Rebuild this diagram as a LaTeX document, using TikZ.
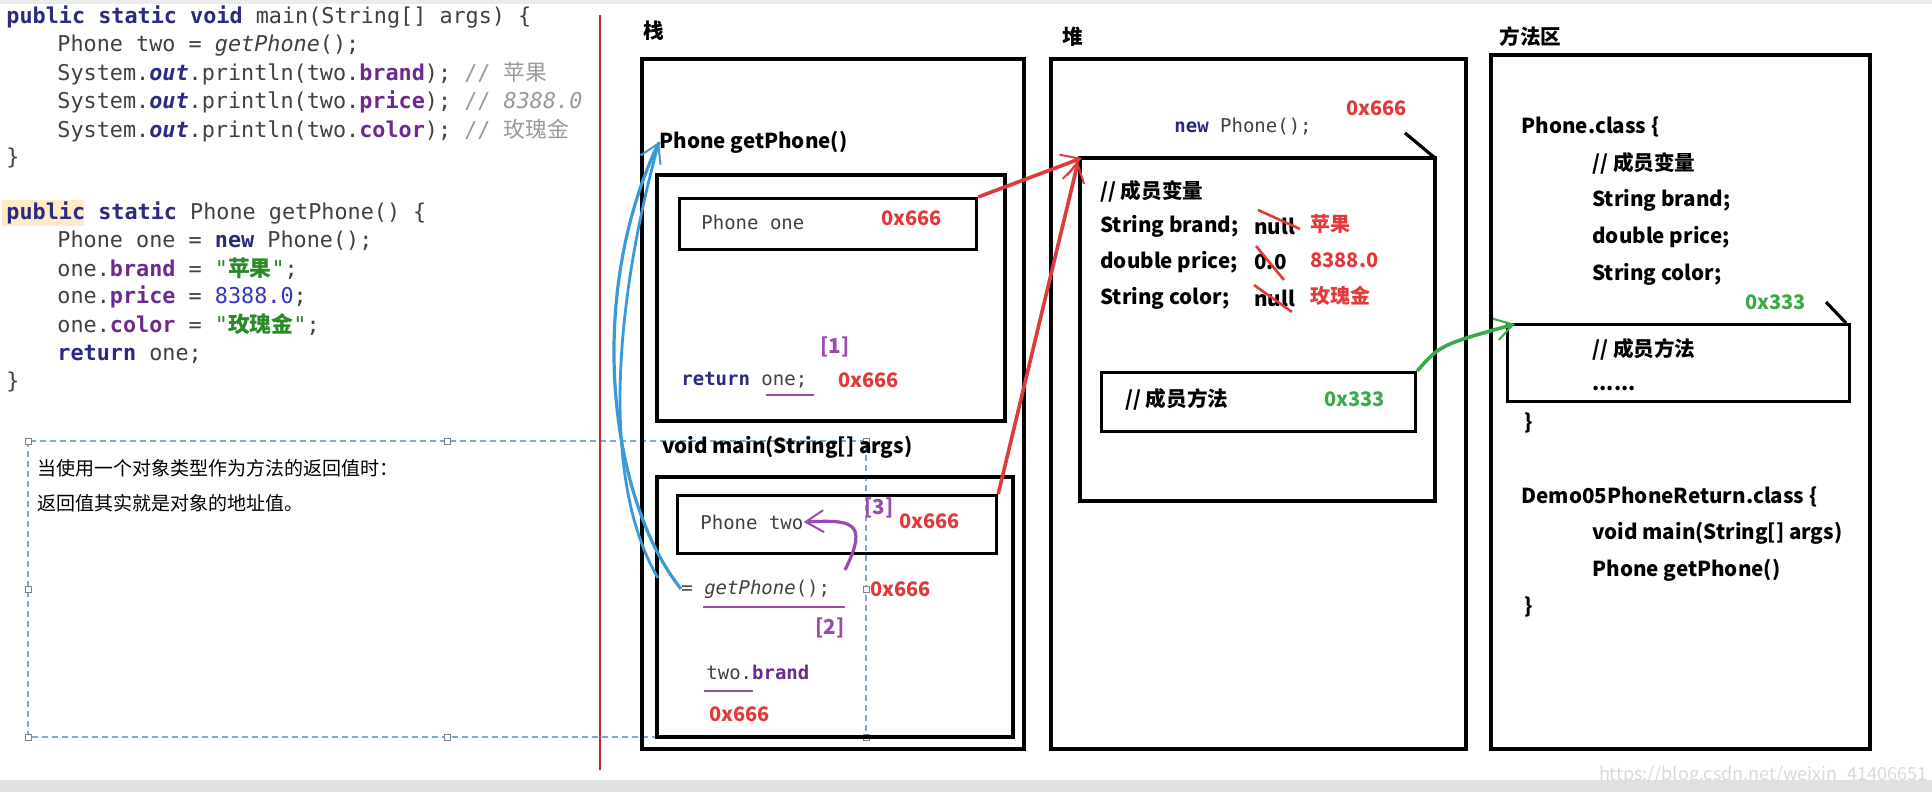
\documentclass[tikz,border=0pt]{standalone}
\usepackage{fontspec}
\setmainfont{Noto Sans CJK SC}
\setmonofont{DejaVu Sans Mono}
\newfontfamily\cjk{Noto Sans CJK SC}
\usetikzlibrary{arrows.meta}
\definecolor{kw}{HTML}{2A2A80}
\definecolor{fld}{HTML}{6A2A90}
\definecolor{str}{HTML}{2A8A2A}
\definecolor{num}{HTML}{3535C0}
\definecolor{cmt}{HTML}{9A9A9A}
\definecolor{codegray}{HTML}{404040}
\definecolor{addr}{HTML}{E03A3A}
\definecolor{grn}{HTML}{3AAA4A}
\definecolor{blu}{HTML}{3A9AD8}
\definecolor{pur}{HTML}{9A4AB0}
\definecolor{dashcol}{HTML}{7AAAD0}
\begin{document}
\begin{tikzpicture}[x=0.5pt,y=-0.5pt,
  code/.style={anchor=west,inner sep=0pt,font=\ttfamily\fontsize{10.9}{13}\selectfont,text=codegray},
  scode/.style={anchor=west,inner sep=0pt,font=\ttfamily\fontsize{9.5}{11}\selectfont,text=codegray},
  lbl/.style={anchor=west,inner sep=0pt,font=\bfseries\fontsize{10.3}{12}\selectfont},
  ad/.style={anchor=west,inner sep=0pt,font=\bfseries\fontsize{10}{11}\selectfont,text=addr},
  gad/.style={anchor=west,inner sep=0pt,font=\bfseries\fontsize{10}{11}\selectfont,text=grn},
  frame/.style={draw=black,line width=1.6pt},
  barb/.style={-{Straight Barb[length=9pt,width=11pt,line width=1pt]}},
  handle/.style={draw=gray,fill=white,line width=0.4pt,minimum size=3pt,inner sep=0pt}]
\useasboundingbox (0,0) rectangle (1932,792);
\fill[white] (0,0) rectangle (1932,792);
\fill[black!12] (0,780) rectangle (1932,792);
\fill[black!8] (0,0) rectangle (1932,4);
% code
\node[code] (c1) at (6,17) {\textcolor{kw}{\bfseries public static void} main(String[] args) \{};
\node[code] (c2) at (57,46) {Phone two = \textit{getPhone}();};
\node[code] (c3) at (57,74) {System.\textcolor{kw}{\itshape\bfseries out}.println(two.\textcolor{fld}{\bfseries brand}); \textcolor{cmt}{// {\cjk 苹果}}};
\node[code] (c4) at (57,102) {System.\textcolor{kw}{\itshape\bfseries out}.println(two.\textcolor{fld}{\bfseries price}); \textcolor{cmt}{// \itshape 8388.0}};
\node[code] (c5) at (57,131) {System.\textcolor{kw}{\itshape\bfseries out}.println(two.\textcolor{fld}{\bfseries color}); \textcolor{cmt}{// {\cjk 玫瑰金}}};
\node[code] (c6) at (6,158) {\}};
\fill[yellow!25!orange!20] (2,200) rectangle (84,226);
\node[code] (d1) at (6,213) {\textcolor{kw}{\bfseries public static} Phone getPhone() \{};
\node[code] (d2) at (57,241) {Phone one = \textcolor{kw}{\bfseries new} Phone();};
\node[code] (d3) at (57,269) {one.\textcolor{fld}{\bfseries brand} = \textcolor{str}{"{\cjk\bfseries 苹果}"};};
\node[code] (d4) at (57,297) {one.\textcolor{fld}{\bfseries price} = \textcolor{num}{8388.0};};
\node[code] (d5) at (57,325) {one.\textcolor{fld}{\bfseries color} = \textcolor{str}{"{\cjk\bfseries 玫瑰金}"};};
\node[code] (d6) at (57,354) {\textcolor{kw}{\bfseries return} one;};
\node[code] (d7) at (6,382) {\}};
% dashed selection box
\draw[dashcol,densely dashed,line width=0.8pt] (28,441) rectangle (866,737);
\foreach \p in {(28,441),(447,441),(866,441),(28,589),(866,589),(28,737),(447,737),(866,737)}
  \node[handle] at \p {};
\node[lbl,font=\fontsize{9.5}{11}\selectfont] (t1) at (37,468) {当使用一个对象类型作为方法的返回值时：};
\node[lbl,font=\fontsize{9.5}{11}\selectfont] (t2) at (37,503) {返回值其实就是对象的地址值。};
% red divider
\draw[addr!85!black,line width=1.4pt] (600,15) -- (600,770);
% stack
\node[lbl] (stk) at (643,31) {栈};
\draw[frame] (642,59) rectangle (1024,749);
\node[lbl] (gp) at (659,142) {Phone getPhone()};
\draw[frame] (657,175) rectangle (1005,421);
\node[frame,minimum width=148.5pt,minimum height=25.5pt,anchor=north west,inner sep=0pt] (pone) at (678,197) {};
\node[scode] (ponet) at (701,222) {Phone one};
\node[ad] (a1) at (881,218) {0x666};
\node[lbl,text=pur] (n1) at (820,347) {[1]};
\node[scode] (ret) at (681,380) {\textcolor{kw}{\bfseries return} one;};
\node[ad] (a2) at (838,380) {0x666};
\draw[pur,line width=1.4pt] (766,395) -- (814,395);
\node[lbl] (vm) at (662,447) {void main(String[] args)};
\draw[frame] (657,477) rectangle (1013,737);
\node[frame,minimum width=159.5pt,minimum height=29pt,anchor=north west,inner sep=0pt] (ptwo) at (676,494) {};
\node[scode] (ptwot) at (700,522) {Phone two};
\node[lbl,text=pur] (n3) at (864,508) {[3]};
\node[ad] (a3) at (899,521) {0x666};
\node[scode] (gcall) at (681,589) {= \textit{getPhone}();};
\node[ad] (a4) at (870,589) {0x666};
\draw[pur,line width=1.4pt] (703,607) -- (845,607);
\node[lbl,text=pur] (n2) at (815,628) {[2]};
\node[scode] (tb) at (706,672) {two.\textcolor{fld}{\bfseries brand}};
\draw[pur,line width=1.4pt] (704,691) -- (753,691);
\node[ad] (a5) at (709,714) {0x666};
% heap
\node[lbl] (heap) at (1062,37) {堆};
\draw[frame] (1051,59) rectangle (1466,749);
\node[scode] (np) at (1174,127) {\textcolor{kw}{\bfseries new} Phone();};
\node[ad] (a6) at (1346,108) {0x666};
\draw[line width=1.6pt] (1405,133) -- (1435,158);
\draw[frame] (1080,158) rectangle (1435,501);
\node[lbl] (mv) at (1100,191) {// 成员变量};
\node[lbl] (sb) at (1100,226) {String brand;};
\node[lbl] (dp) at (1100,262) {double price;};
\node[lbl] (sc) at (1100,298) {String color;};
\node[lbl] (o1) at (1254,226) {null};
\node[lbl] (o2) at (1254,262) {0.0};
\node[lbl] (o3) at (1254,298) {null};
\node[ad] (v1) at (1310,224) {苹果};
\node[ad] (v2) at (1310,260) {8388.0};
\node[ad] (v3) at (1310,296) {玫瑰金};
\draw[addr,line width=1.3pt] (1258,210) -- (1300,229);
\draw[addr,line width=1.3pt] (1256,246) -- (1284,280);
\draw[addr,line width=1.3pt] (1254,285) -- (1292,312);
\node[frame,minimum width=157pt,minimum height=29.5pt,anchor=north west,inner sep=0pt] (mbox) at (1100,371) {};
\node[lbl] (mm) at (1125,399) {// 成员方法};
\node[gad] (g1) at (1324,399) {0x333};
% method area
\node[lbl] (ma) at (1499,37) {方法区};
\draw[frame] (1491,55) rectangle (1870,749);
\node[lbl] (pc) at (1521,127) {Phone.class \{};
\node[lbl] (pc1) at (1592,163) {// 成员变量};
\node[lbl] (pc2) at (1592,200) {String brand;};
\node[lbl] (pc3) at (1592,237) {double price;};
\node[lbl] (pc4) at (1592,274) {String color;};
\node[gad] (g2) at (1745,302) {0x333};
\draw[line width=1.6pt] (1826,302) -- (1846,323);
\node[frame,minimum width=171pt,minimum height=38.5pt,anchor=north west,inner sep=0pt] (mb2) at (1506,323) {};
\node[lbl] (pc5) at (1592,349) {// 成员方法};
\node[lbl] (pc6) at (1592,389) {......};
\node[lbl] (pc7) at (1524,423) {\}};
\node[lbl] (dc) at (1521,497) {Demo05PhoneReturn.class \{};
\node[lbl] (dc1) at (1592,533) {void main(String[] args)};
\node[lbl] (dc2) at (1592,570) {Phone getPhone()};
\node[lbl] (dc3) at (1524,607) {\}};
% connectors
\coordinate (hp) at (1082,158);
\coordinate (mtop) at (1515,324);
\draw[addr,line width=1.8pt,barb] (pone.north east) -- (hp);
\draw[addr,line width=1.8pt,barb] (ptwo.north east) -- (1078,162);
\draw[grn,line width=1.8pt,barb] (mbox.north east) .. controls (1440,345) .. (mtop);
\draw[blu,line width=1.6pt,barb] (gcall.west) .. controls (610,500) and (585,300) .. (gp.west);
\draw[blu,line width=1.4pt] (658,578) .. controls (600,480) and (615,300) .. (gp.west);
\draw[pur,line width=1.6pt,barb] (845,570) .. controls (870,520) and (850,520) .. (ptwot.east);
\node[anchor=east,inner sep=0pt,text=black!15,font=\fontsize{9}{11}\selectfont] (wm) at (1928,776) {https://blog.csdn.net/weixin\_41406651};
\end{tikzpicture}
\end{document}
